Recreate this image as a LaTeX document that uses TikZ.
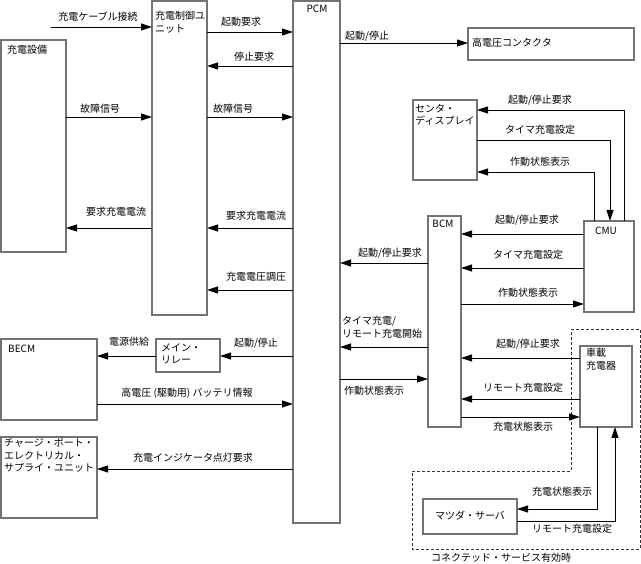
\documentclass[tikz,border=0pt]{standalone}
\usepackage{fontspec}
\setmainfont{Noto Sans CJK JP}
\usetikzlibrary{arrows.meta}

\begin{document}
\begin{tikzpicture}[x=1pt, y=-1pt,
		box/.style={draw=black!55, line width=1.3pt, fill=white, inner sep=0pt, outer sep=0pt, anchor=north west},
		sig/.style={line width=0.9pt, draw=black, -{Triangle[length=11pt, width=7pt]}},
		lbl/.style={font=\fontsize{10}{12.5}\selectfont, inner sep=0pt},
		ttl/.style={lbl, anchor=north west, align=left}
		]
		
		\useasboundingbox (0,0) rectangle (641,564);
		
		% ==========================================
		% CONNECTED SERVICE AREA (dashed)
		% ==========================================
		\draw[black!80, line width=0.9pt, dash pattern=on 3pt off 2pt]
			(571,329) -- (640,329) -- (640,549) -- (412,549) -- (412,471) -- (571,471) -- cycle;
		\node[lbl] (tConn) at (501,558) {コネクテッド・サービス有効時};
		
		% ==========================================
		% BLOCKS
		% ==========================================
		\node[box, minimum width=65pt, minimum height=212pt] (equip) at (1,40) {};
		\node[box, minimum width=55pt, minimum height=314pt] (ctrl) at (152,1) {};
		\node[box, minimum width=47pt, minimum height=522pt] (pcm) at (293,1) {};
		\node[box, minimum width=166pt, minimum height=32pt] (hvc) at (468,28) {};
		\node[box, minimum width=64pt, minimum height=80pt] (disp) at (413,100) {};
		\node[box, minimum width=50pt, minimum height=91pt] (cmu) at (584,221) {};
		\node[box, minimum width=33pt, minimum height=211pt] (bcm) at (428,216) {};
		\node[box, minimum width=52pt, minimum height=81pt] (obc) at (580,346) {};
		\node[box, minimum width=94pt, minimum height=35pt] (srv) at (423,499) {};
		\node[box, minimum width=96pt, minimum height=81pt] (becm) at (1,339) {};
		\node[box, minimum width=64pt, minimum height=33pt] (relay) at (156,339) {};
		\node[box, minimum width=96pt, minimum height=81pt] (port) at (1,437) {};
		
		% Block titles
		\node[lbl, anchor=west] (tEquip) at (7,50) {充電設備};
		\node[ttl] (tCtrl) at (155,11) {充電制御ユ\\ニット};
		\node[lbl] (tPcm) at (317,9) {PCM};
		\node[lbl, anchor=west] (tHvc) at (472,43) {高電圧コンタクタ};
		\node[ttl] (tDisp) at (415,104) {センタ・\\ディスプレイ};
		\node[lbl] (tCmu) at (606,231) {CMU};
		\node[lbl] (tBcm) at (443,224) {BCM};
		\node[ttl] (tObc) at (586,348) {車載\\充電器};
		\node[lbl] (tSrv) at (470,516) {マツダ・サーバ};
		\node[lbl, anchor=west] (tBecm) at (8,349) {BECM};
		\node[ttl] (tRelay) at (161,343) {メイン・\\リレー};
		\node[ttl] (tPort) at (4,438) {チャージ・ポート・\\エレクトリカル・\\サプライ・ユニット};
		
		% ==========================================
		% CHARGER SIDE (left)
		% ==========================================
		\coordinate (cable) at (51,27);
		\draw[sig] (cable) -- (ctrl.west |- cable);
		\node[lbl] (lCable) at (98,17) {充電ケーブル接続};
		
		\draw[sig] (equip.east |- 0,117) -- (ctrl.west |- 0,117);
		\node[lbl] (lFault1) at (100,109) {故障信号};
		
		\draw[sig] (ctrl.west |- 0,228) -- (equip.east |- 0,228);
		\node[lbl] (lCur1) at (116,212) {要求充電電流};
		
		% Control unit <-> PCM
		\draw[sig] (ctrl.east |- 0,32) -- (pcm.west |- 0,32);
		\node[lbl] (lStart) at (241,22) {起動要求};
		
		\draw[sig] (pcm.west |- 0,66) -- (ctrl.east |- 0,66);
		\node[lbl] (lStop) at (254,57) {停止要求};
		
		\draw[sig] (ctrl.east |- 0,117) -- (pcm.west |- 0,117);
		\node[lbl] (lFault2) at (233,109) {故障信号};
		
		\draw[sig] (pcm.west |- 0,228) -- (ctrl.east |- 0,228);
		\node[lbl] (lCur2) at (256,216) {要求充電電流};
		
		\draw[sig] (pcm.west |- 0,290) -- (ctrl.east |- 0,290);
		\node[lbl] (lVolt) at (256,277) {充電電圧調圧};
		
		% ==========================================
		% BATTERY SIDE (lower left)
		% ==========================================
		\draw[sig] (pcm.west |- 0,356) -- (relay.east |- 0,356);
		\node[lbl] (lRelay) at (256,343) {起動/停止};
		
		\draw[sig] (relay.west |- 0,356) -- (becm.east |- 0,356);
		\node[lbl] (lPower) at (129,342) {電源供給};
		
		\draw[sig] (becm.east |- 0,404) -- (pcm.west |- 0,404);
		\node[lbl] (lBatt) at (187,393) {高電圧 (駆動用) バッテリ情報};
		
		\draw[sig] (pcm.west |- 0,469) -- (port.east |- 0,469);
		\node[lbl] (lInd) at (193,458) {充電インジケータ点灯要求};
		
		% ==========================================
		% PCM -> CONTACTOR, PCM <-> BCM
		% ==========================================
		\draw[sig] (pcm.east |- 0,43) -- (hvc.west |- 0,43);
		\node[lbl, anchor=west] (lHvc) at (345,36) {起動/停止};
		
		\draw[sig] (bcm.west |- 0,263) -- (pcm.east |- 0,263);
		\node[lbl] (lReq1) at (390,253) {起動/停止要求};
		
		\draw[sig] (bcm.west |- 0,347) -- (pcm.east |- 0,347);
		\node[ttl] (lTimer) at (342,316) {タイマ充電/\\リモート充電開始};
		
		\draw[sig] (pcm.east |- 0,379) -- (bcm.west |- 0,379);
		\node[lbl] (lState1) at (374,391) {作動状態表示};
		
		% ==========================================
		% CMU <-> CENTER DISPLAY
		% ==========================================
		\draw[sig] (cmu.north -| 624,0) |- (disp.east |- 0,110);
		\node[lbl] (lReq2) at (540,100) {起動/停止要求};
		
		\draw[sig] (disp.east |- 0,140) -| (cmu.north -| 610,0);
		\node[lbl] (lSet1) at (540,130) {タイマ充電設定};
		
		\draw[sig] (cmu.north -| 594,0) |- (disp.east |- 0,172);
		\node[lbl] (lState2) at (540,162) {作動状態表示};
		
		% ==========================================
		% CMU <-> BCM
		% ==========================================
		\draw[sig] (cmu.west |- 0,234) -- (bcm.east |- 0,234);
		\node[lbl] (lReq3) at (527,220) {起動/停止要求};
		
		\draw[sig] (cmu.west |- 0,268) -- (bcm.east |- 0,268);
		\node[lbl] (lSet2) at (528,255) {タイマ充電設定};
		
		\draw[sig] (bcm.east |- 0,304) -- (cmu.west |- 0,304);
		\node[lbl] (lState3) at (528,293) {作動状態表示};
		
		% ==========================================
		% ON-BOARD CHARGER <-> BCM, SERVER
		% ==========================================
		\draw[sig] (obc.west |- 0,358) -- (bcm.east |- 0,358);
		\node[lbl] (lReq4) at (528,344) {起動/停止要求};
		
		\draw[sig] (obc.west |- 0,399) -- (bcm.east |- 0,399);
		\node[lbl] (lRemote1) at (523,388) {リモート充電設定};
		
		\draw[sig] (bcm.east |- 0,417) -- (obc.west |- 0,417);
		\node[lbl] (lChg1) at (523,427) {充電状態表示};
		
		\draw[sig] (obc.south -| 597,0) |- (srv.east |- 0,509);
		\node[lbl] (lChg2) at (562,492) {充電状態表示};
		
		\draw[sig] (srv.east |- 0,521) -| (obc.south -| 615,0);
		\node[lbl] (lRemote2) at (572,529) {リモート充電設定};
		
	\end{tikzpicture}
\end{document}
